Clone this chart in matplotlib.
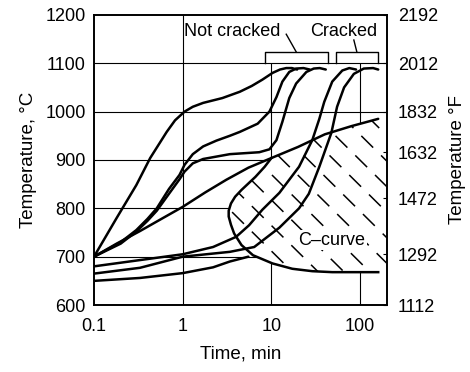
import numpy as np
import matplotlib.pyplot as plt
from matplotlib.patches import Polygon

plt.rcParams['font.family'] = ['Liberation Sans', 'DejaVu Sans']
plt.rcParams['lines.scale_dashes'] = False

# heating curves: time (min), temperature (C)
t_a = [0.1, 0.18, 0.30, 0.43, 0.55, 0.66, 0.82, 1.05, 1.3, 1.7, 2.8, 4.4, 6, 7.9, 10.3, 12.5, 14.7, 17, 19.5]
T_a = [700, 780, 848, 904, 935, 958, 982, 1000, 1010, 1018, 1028, 1041, 1053, 1066, 1080, 1087, 1090, 1090, 1087]

t_b = [0.1, 0.2, 0.3, 0.4, 0.51, 0.7, 0.92, 1.05, 1.3, 1.7, 2.4, 3.4, 4.4, 7, 9.5, 11.4, 13.3, 15.9, 19, 23, 27]
T_b = [700, 730, 755, 778, 800, 840, 869, 890, 912, 928, 940, 950, 958, 975, 1000, 1030, 1062, 1082, 1089, 1090, 1087]

t_c = [0.1, 0.2, 0.3, 0.4, 0.51, 0.7, 0.92, 1.05, 1.3, 1.7, 3.4, 7.3, 9.5, 11.4, 13.3, 15.9, 19, 24.8, 30, 35, 41]
T_c = [700, 727, 752, 774, 795, 830, 860, 876, 893, 902, 912, 916, 922, 941, 979, 1028, 1058, 1082, 1089, 1090, 1087]

t_d = [0.1, 0.18, 0.33, 0.6, 1.0, 1.8, 3.1, 5.5, 10, 20, 40, 80, 160]
T_d = [700, 727, 753, 780, 803, 833, 859, 884, 904, 927, 953, 970, 985]

# cracked
t_e = [0.1, 0.33, 1.0, 2.2, 4.0, 5.6, 7.9, 12.3, 20.5, 28.9, 34.7, 39.4, 48.5, 63, 75.5, 90]
T_e = [680, 693, 705, 720, 741, 765, 797, 832, 886, 941, 985, 1020, 1062, 1085, 1090, 1087]

t_f = [0.1, 0.33, 1.0, 3.4, 6.4, 12.3, 20.5, 26.4, 34.7, 47.4, 55, 66, 85, 110, 140, 160]
T_f = [665, 677, 700, 710, 720, 760, 800, 830, 886, 956, 1010, 1050, 1078, 1089, 1090, 1087]

t_g = [0.1, 0.33, 1.0, 2.2, 3.4, 5.5]
T_g = [650, 656, 666, 678, 690, 700]

# C-curve, from where it meets the upper line, round the nose, to the right
t_cc = [10, 8.4, 6.6, 4.6, 3.9, 3.5, 3.3, 3.3, 3.5, 3.8, 4.6, 6.2, 10.3, 17.2, 28.9, 48.5, 100, 160]
T_cc = [904, 886, 865, 838, 824, 810, 795, 783, 766, 748, 724, 703, 686, 675, 670, 668, 668, 668]

yticks_f = [600, 705, 821, 916, 1000, 1100, 1200]
ylabels_f = ['1112', '1292', '1472', '1632', '1832', '2012', '2192']

fig = plt.figure(figsize=(4.7, 3.72), dpi=100)
ax = fig.add_axes([0.2, 0.18, 0.623, 0.78])
ax.set_xscale('log')
ax.set_xlim(0.1, 200)
ax.set_ylim(600, 1200)

# grid
ax.hlines([700, 800, 900, 1000, 1100], 0.1, 200, color='k', lw=0.8, zorder=1)
ax.vlines(1, 600, 1200, color='k', lw=0.8, zorder=1)
ax.vlines([10, 100], 600, 1100, color='k', lw=0.8, zorder=1)

# hatched region right of the C-curve
verts = list(zip(t_cc, T_cc)) + [(200, 668), (200, 985)]
verts += [(t, T) for t, T in zip(t_d[::-1], T_d[::-1]) if t >= 10]
poly = Polygon(verts, closed=True, facecolor='white', edgecolor='none', zorder=2)
ax.add_patch(poly)
for c in np.arange(0.0, 2.0, 0.088):
    ln, = ax.plot([0, 1], [c, c - 1], transform=ax.transAxes, color='k', lw=1.1,
                  dashes=(12, 8), zorder=2.5)
    ln.set_clip_path(poly)

lw = 1.8
for tt, TT in [(t_a, T_a), (t_b, T_b), (t_c, T_c), (t_d, T_d), (t_e, T_e), (t_f, T_f), (t_g, T_g)]:
    ax.plot(tt, TT, color='k', lw=lw, zorder=3, solid_capstyle='round', solid_joinstyle='round')
ax.plot(t_cc, T_cc, color='k', lw=lw, zorder=3, solid_joinstyle='round')

# brackets
ax.plot([8.4, 8.4, 44, 44], [1100, 1123, 1123, 1100], color='k', lw=1.0, zorder=3)
ax.plot([53, 53, 160, 160], [1100, 1123, 1123, 1100], color='k', lw=1.0, zorder=3)
ax.plot([14.7, 19.1], [1160, 1123], color='k', lw=1.0)
ax.plot([85, 92], [1148, 1123], color='k', lw=1.0)
ax.text(3.6, 1165, 'Not cracked', ha='center', va='center', fontsize=13)
ax.text(66, 1165, 'Cracked', ha='center', va='center', fontsize=13)
ax.text(48, 734, 'C\u2013curve', ha='center', va='center', fontsize=13, zorder=4,
        bbox=dict(facecolor='white', edgecolor='none', pad=1))

ax.set_xticks([0.1, 1, 10, 100])
ax.set_xticklabels(['0.1', '1', '10', '100'])
ax.minorticks_off()
ax.set_yticks([600, 700, 800, 900, 1000, 1100, 1200])
ax.tick_params(axis='both', length=0, labelsize=13)
ax.tick_params(axis='x', pad=9)
ax.tick_params(axis='y', pad=6)
ax.set_xlabel('Time, min', fontsize=13.5, labelpad=8)
ax.set_ylabel('Temperature, \u00b0C', fontsize=13.5, labelpad=6)
for s in ax.spines.values():
    s.set_linewidth(1.2)

ax2 = ax.twinx()
ax2.set_ylim(600, 1200)
ax2.set_yticks(yticks_f)
ax2.set_yticklabels(ylabels_f)
ax2.tick_params(axis='y', direction='in', length=3, labelsize=13, pad=8)
ax2.set_ylabel('Temperature \u00b0F', fontsize=13.5, labelpad=8)
for s in ax2.spines.values():
    s.set_linewidth(1.2)

fig.savefig('out.png', dpi=100)
